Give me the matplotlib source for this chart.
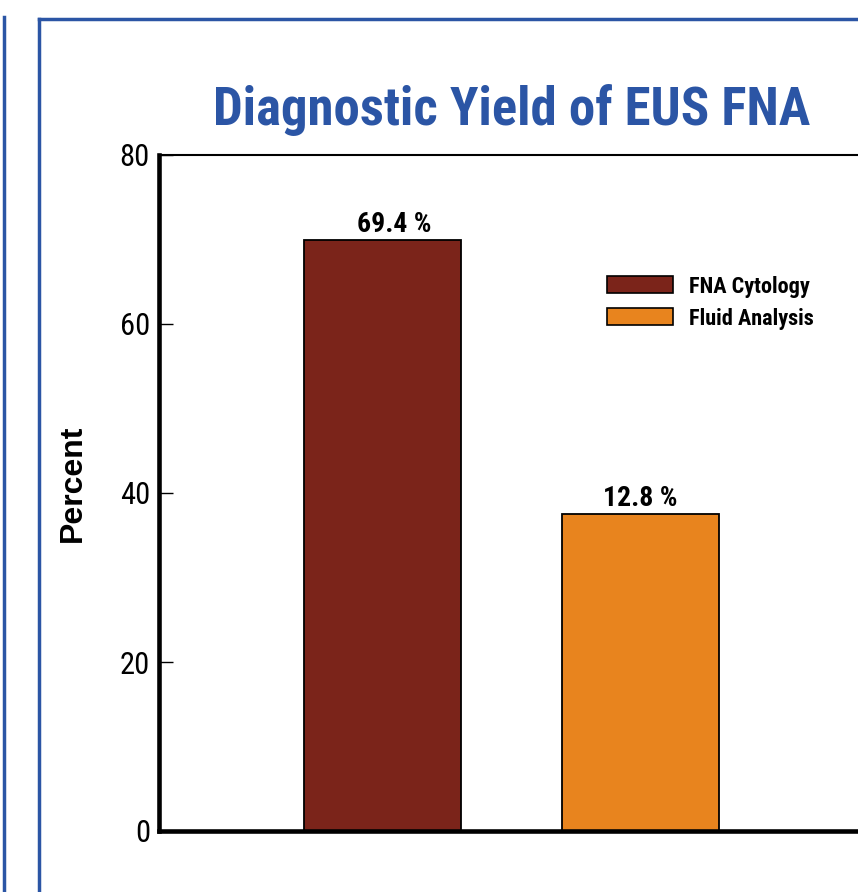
import matplotlib
matplotlib.use("Agg")
import matplotlib.pyplot as plt
from matplotlib.patches import Patch
from matplotlib.lines import Line2D

# data
categories = ["FNA Cytology", "Fluid Analysis"]
values = [69.9, 37.5]
value_labels = ["69.4 %", "12.8 %"]
colors = ["#7b241a", "#e8841e"]
yticks = [0, 20, 40, 60, 80]

cond = ["Roboto Condensed", "DejaVu Sans"]
blue = "#2b55a5"
label_dx = [8, 0]  # label shift in points

W, H = 858, 892
fig = plt.figure(figsize=(W / 100, H / 100), dpi=100)

def fx(px):
    return px / W

def fy(py):
    return 1 - py / H

# blue frame lines
fig.add_artist(Line2D([fx(4), fx(4)], [fy(17), fy(H + 10)], color=blue, lw=2.5))
fig.add_artist(Line2D([fx(39), fx(39)], [fy(19), fy(H + 10)], color=blue, lw=2.5))
fig.add_artist(Line2D([fx(39), fx(W + 10)], [fy(19), fy(19)], color=blue, lw=2.5))

ax = fig.add_axes([fx(159), fy(831), fx(880) - fx(159), fy(155) - fy(831)])
x = [0, 1]
ax.bar(x, values, width=0.607, color=colors, edgecolor="black", linewidth=1.3, zorder=2)
ax.set_xlim(-0.868, 1.93)
ax.set_ylim(0, 80)

for xi, v, lab, dx in zip(x, values, value_labels, label_dx):
    ax.annotate(lab, (xi, v), xytext=(dx, 6), textcoords="offset points",
                ha="center", va="baseline", fontsize=20, fontweight="bold", family=cond)

ax.set_xticks([])
ax.set_yticks(yticks)
ax.set_yticklabels([str(t) for t in yticks], family=cond, fontsize=22)
ax.tick_params(axis="y", direction="in", length=10, width=1.0, pad=6.5)

ax.spines["left"].set_linewidth(3.3)
ax.spines["bottom"].set_linewidth(3.3)
ax.spines["top"].set_linewidth(1.5)
ax.spines["right"].set_visible(False)

fig.text(fx(73), fy(483), "Percent", rotation=90, ha="center", va="center",
         fontsize=23, fontweight="bold", family=["Liberation Sans", "DejaVu Sans"])

fig.text(fx(512), fy(125), "Diagnostic Yield of EUS FNA", ha="center", va="baseline",
         fontsize=38, fontweight="bold", color=blue, family=cond)

handles = [Patch(facecolor=c, edgecolor="black", linewidth=1.2) for c in colors]
leg = ax.legend(handles, categories, loc="upper left",
                bbox_to_anchor=(fx(600), fy(269)), bbox_transform=fig.transFigure,
                frameon=False, prop={"family": cond, "weight": "bold", "size": 16},
                handlelength=3.0, handleheight=0.8, labelspacing=0.45, handletextpad=0.7,
                borderaxespad=0, borderpad=0.3)

fig.savefig("out.png", dpi=100)
